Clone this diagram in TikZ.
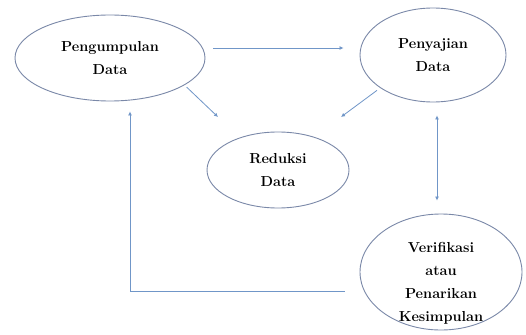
\documentclass[tikz,border=0pt]{standalone}
\usetikzlibrary{arrows.meta,shapes.geometric}
\definecolor{rim}{RGB}{122,136,168}
\definecolor{flow}{RGB}{112,150,200}

\begin{document}
\begin{tikzpicture}[x=1pt, y=-1pt,
    stage/.style={ellipse, draw=rim, line width=0.9pt, fill=white, inner sep=0pt,
      align=center, font=\bfseries\fontsize{14.5}{23}\selectfont},
    caption/.style={align=center, inner sep=0pt, font=\bfseries\fontsize{14.5}{23}\selectfont},
    arr/.style={draw=flow, line width=0.8pt, -{Latex[length=4pt,width=4pt]}}]
    \useasboundingbox [fill=white] (0,0) rectangle (526,334);

    \node [stage, minimum width=190pt, minimum height=86pt] (pengumpulan) at (110,58) {Pengumpulan\\Data};
    \node [stage, minimum width=146pt, minimum height=94pt] (penyajian) at (433,55) {Penyajian\\Data};
    \node [stage, minimum width=142pt, minimum height=76pt] (reduksi) at (278,170) {Reduksi\\Data};
    \node [stage, minimum width=162pt, minimum height=116pt] (verifikasi) at (441,272) {};
    \node [caption] (verifikasiteks) at ([yshift=-11pt]verifikasi.center) {Verifikasi\\atau\\Penarikan\\Kesimpulan};

    \coordinate (redL) at (218,117);
    \coordinate (redR) at (341,117);

    \draw [arr, shorten <=8pt, shorten >=16pt] ([yshift=10pt]pengumpulan.east) -- ([yshift=10pt]pengumpulan.east -| penyajian.west);
    \draw [arr, shorten <=3pt] (pengumpulan.-20) -- (redL);
    \draw [arr, shorten <=4pt] (penyajian.212) -- (redR);
    \draw [arr, {Latex[length=4pt,width=4pt]}-{Latex[length=4pt,width=4pt]}, shorten <=13pt, shorten >=13pt]
      ([xshift=4pt]penyajian.south) -- ([xshift=4pt]penyajian.south |- verifikasi.north);
    \draw [arr, shorten <=15pt, shorten >=10pt] ([yshift=-19pt]verifikasi.west) -| ([xshift=20pt]pengumpulan.south);
\end{tikzpicture}
\end{document}
